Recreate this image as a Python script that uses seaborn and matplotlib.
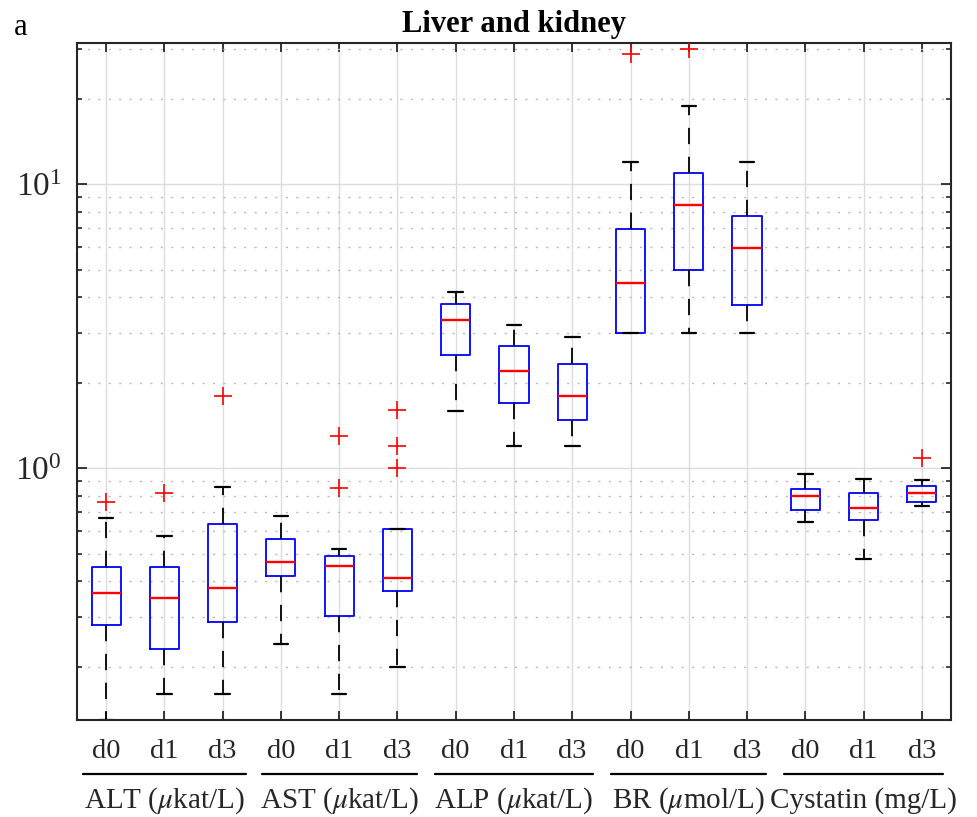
import numpy as np
import pandas as pd
import matplotlib
matplotlib.use("Agg")
import matplotlib.pyplot as plt
import matplotlib.ticker as mticker
import matplotlib.transforms as mtransforms
import seaborn as sns

# ---------------- data ----------------
groups = ["ALT ($\\mu$kat/L)", "AST ($\\mu$kat/L)", "ALP ($\\mu$kat/L)",
          "BR ($\\mu$mol/L)", "Cystatin (mg/L)"]
days = ["d0", "d1", "d3"]

whisker_low = [0.13, 0.161, 0.161, 0.241, 0.161, 0.200, 1.595, 1.201, 1.201,
               3.0, 3.0, 3.0, 0.649, 0.481, 0.738]
q1 = [0.281, 0.231, 0.288, 0.418, 0.301, 0.370, 2.50, 1.698, 1.476,
      3.0, 4.99, 3.75, 0.715, 0.659, 0.759]
median = [0.365, 0.350, 0.380, 0.468, 0.453, 0.412, 3.34, 2.21, 1.797,
          4.49, 8.48, 5.97, 0.801, 0.727, 0.821]
q3 = [0.450, 0.450, 0.638, 0.565, 0.490, 0.612, 3.80, 2.70, 2.323,
      6.98, 10.98, 7.73, 0.846, 0.821, 0.869]
whisker_high = [0.670, 0.578, 0.862, 0.681, 0.520, 0.613, 4.18, 3.205, 2.907,
                11.98, 18.87, 11.98, 0.957, 0.917, 0.909]
outliers = [[0.759], [0.818], [1.797], [], [1.299, 0.850], [1.600, 1.198, 1.0],
            [], [], [], [28.9], [29.96], [], [], [], [1.09]]

# ---------------- tables ----------------
keys = [f"{g}|{d}" for g in groups for d in days]
box_rows = []
for k, lo, a, m, b, hi in zip(keys, whisker_low, q1, median, q3, whisker_high):
    for v in (lo, a, m, b, hi):
        box_rows.append({"key": k, "value": v})
box_df = pd.DataFrame(box_rows)
out_rows = [{"key": k, "value": v} for k, vals in zip(keys, outliers) for v in vals]
out_df = pd.DataFrame(out_rows)

# ---------------- style ----------------
sns.set_style("ticks")
plt.rcParams["font.family"] = ["Liberation Serif", "DejaVu Serif"]
plt.rcParams["mathtext.fontset"] = "stix"
plt.rcParams["xtick.direction"] = "in"
plt.rcParams["ytick.direction"] = "in"

DARK = "#262626"

fig = plt.figure(figsize=(9.78, 8.17), dpi=100)
ax = fig.add_axes([77 / 978, 97 / 817, 874 / 978, 677 / 817])

sns.boxplot(data=box_df, x="key", y="value", order=keys, log_scale=True,
            whis=(0, 100), width=0.5, fill=False, color="blue",
            linewidth=1.3, showfliers=False, ax=ax,
            boxprops=dict(color="blue", linewidth=1.3),
            medianprops=dict(color="red", linewidth=1.7),
            whiskerprops=dict(color="black", linewidth=1.3, linestyle=(0, (9, 7))),
            capprops=dict(color="black", linewidth=1.6))

sns.stripplot(data=out_df, x="key", y="value", order=keys, jitter=False,
              marker="+", color="red", size=12.5, linewidth=1.2,
              log_scale=True, ax=ax, zorder=5)

ax.set_yscale("log")
ax.set_ylim(0.13, 31.5)
ax.set_xlim(-0.5, len(keys) - 0.5)
ax.set_xlabel("")
ax.set_ylabel("")

# ticks
ax.set_xticks(range(len(keys)))
ax.set_xticklabels([d for g in groups for d in days])
ax.yaxis.set_major_locator(mticker.LogLocator(base=10, numticks=10))
ax.yaxis.set_minor_locator(mticker.LogLocator(base=10, subs=np.arange(2, 10), numticks=20))
ax.yaxis.set_major_formatter(mticker.LogFormatterMathtext())
ax.yaxis.set_minor_formatter(mticker.NullFormatter())
ax.tick_params(axis="x", which="major", direction="in", length=6.5, width=1.3,
               top=True, bottom=True, labelsize=20.5, pad=14, colors=DARK)
ax.tick_params(axis="y", which="major", direction="in", length=7, width=1.3,
               left=True, right=True, labelsize=24, pad=11, colors=DARK)
ax.tick_params(axis="y", which="minor", direction="in", length=3.6, width=1.2,
               left=True, right=True, colors=DARK)

# grid
ax.set_axisbelow(True)
ax.grid(True, which="major", axis="both", color="#dcdcdc", linewidth=1.0, linestyle="-")
ax.grid(True, which="minor", axis="y", color="#b8b8b8", linewidth=1.0,
        linestyle=(0, (1.5, 6)))
ax.xaxis.grid(True, which="major", color="#dcdcdc", linewidth=1.0)

for s in ax.spines.values():
    s.set_visible(True)
    s.set_color(DARK)
    s.set_linewidth(1.5)

ax.set_title("Liver and kidney", fontsize=22, fontweight="bold", pad=8, color="black")

# group labels with lines
trans = mtransforms.blended_transform_factory(ax.transData, ax.transAxes)
half = [1.40, 1.33, 1.36, 1.33, 1.37]
for i, g in enumerate(groups):
    c = 3 * i + 1
    ax.plot([c - half[i], c + half[i]], [-0.0798, -0.0798], transform=trans,
            color="black", linewidth=1.6, clip_on=False)
    ax.text(c, -0.129, g, transform=trans, ha="center", va="baseline",
            fontsize=21, color=DARK)

fig.text(14 / 978, 1 - 35 / 817, "a", fontsize=22, va="baseline", ha="left", color="black")

fig.savefig("out.png", dpi=100)
